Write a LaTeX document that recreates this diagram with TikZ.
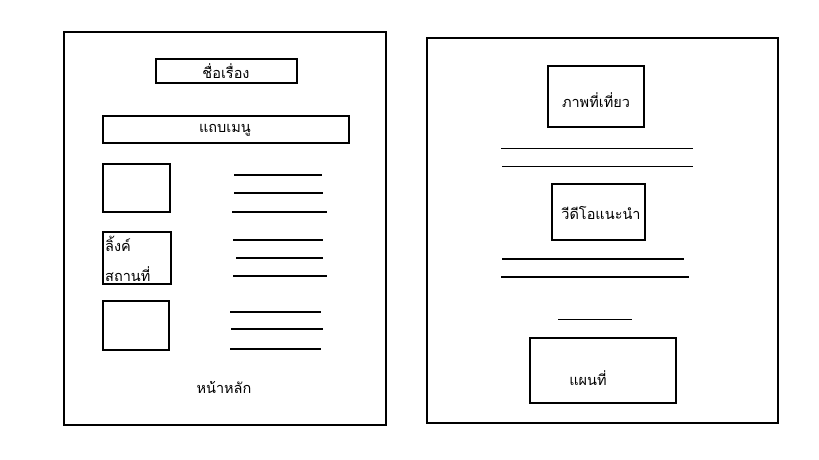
\documentclass[tikz,border=0pt]{standalone}
\usepackage{fontspec}
\newfontfamily\thaifont[Script=Thai]{Loma}
\begin{document}
\begin{tikzpicture}[x=1pt,y=-1pt,
  frame/.style={draw=black,line width=2.8pt},
  boxs/.style={draw=black,line width=2.8pt},
  thick line/.style={draw=black,line width=2.8pt},
  thin line/.style={draw=black,line width=1pt},
  lbl/.style={font=\thaifont\fontsize{14.5}{16}\selectfont,inner sep=0pt}]
\useasboundingbox[fill=white] (0,0) rectangle (819,460);
% left page
\draw[frame] (64,32) rectangle (386,425);
\draw[boxs] (156,59) rectangle (297,83);
\node[lbl] (title) at (226,71) {ชื่อเรื่อง};
\draw[boxs] (103,116) rectangle (349,143);
\node[lbl] (menu) at (225,130) {แถบเมนู};
\draw[boxs] (103,164) rectangle (170,212);
\draw[thick line] (234,175) -- (322,175);
\draw[thick line] (234,193) -- (323,193);
\draw[thick line] (232,212) -- (327,212);
\draw[boxs] (103,232) rectangle (171,284);
\node[lbl,anchor=west] (link) at (105,244) {ลิ้งค์};
\node[lbl,anchor=west] (place) at (105,274) {สถานที่};
\draw[thick line] (233,240) -- (323,240);
\draw[thick line] (236,258) -- (323,258);
\draw[thick line] (233,276) -- (327,276);
\draw[boxs] (103,301) rectangle (169,350);
\draw[thick line] (230,312) -- (321,312);
\draw[thick line] (231,329) -- (323,329);
\draw[thick line] (230,349) -- (321,349);
\node[lbl] (home) at (224,387) {หน้าหลัก};
% right page
\draw[frame] (427,38) rectangle (778,423);
\draw[boxs] (548,66) rectangle (644,127);
\node[lbl] (photo) at (596,100) {ภาพที่เที่ยว};
\draw[thin line] (501,148) -- (693,148);
\draw[thin line] (502,166) -- (693,166);
\draw[boxs] (552,184) rectangle (645,240);
\node[lbl] (video) at (601,213) {วีดีโอแนะนำ};
\draw[thick line] (502,259) -- (684,259);
\draw[thick line] (501,277) -- (689,277);
\draw[thin line] (558,319) -- (632,319);
\draw[boxs] (530,338) rectangle (676,403);
\node[lbl] (map) at (588,378) {แผนที่};
\end{tikzpicture}
\end{document}
